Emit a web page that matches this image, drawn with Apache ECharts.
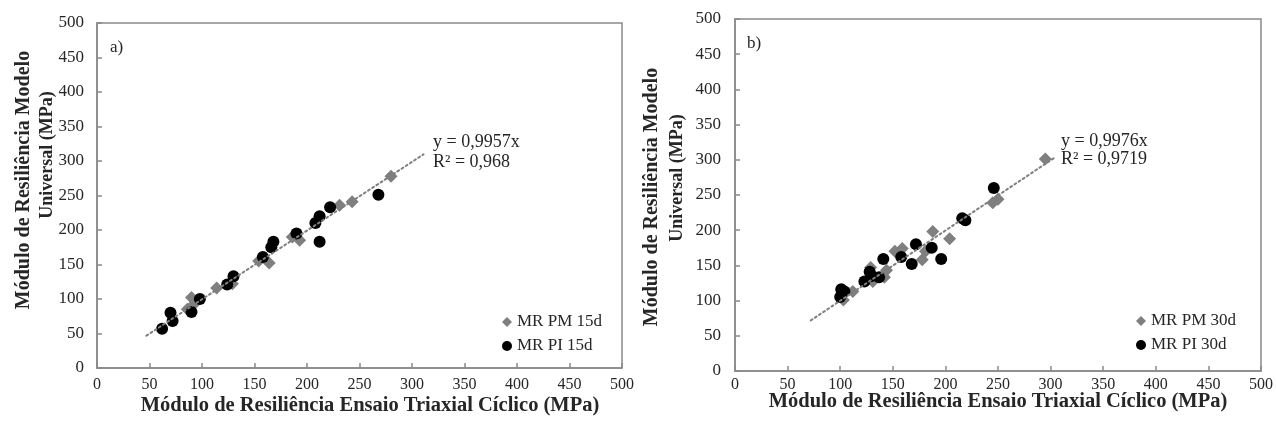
<!DOCTYPE html>
<html><head><meta charset="utf-8">
<script src="https://cdn.jsdelivr.net/npm/echarts@6/dist/echarts.min.js"></script>
<style>html,body{margin:0;padding:0;background:#fff}#c{width:1276px;height:426px}</style>
</head><body><div id="c"></div>
<script>
// ---- data ----
var axisTicks = [0, 50, 100, 150, 200, 250, 300, 350, 400, 450, 500];
var pm15x = [86, 90, 92, 114, 129, 154, 164, 186, 193, 231, 243, 280];
var pm15y = [85, 102, 92, 116, 122, 155, 152, 190, 185, 236, 241, 278];
var pi15x = [62, 70, 72, 90, 98, 124, 130, 158, 166, 168, 190, 208, 212, 212, 222, 268];
var pi15y = [57, 80, 68, 81, 100, 121, 133, 161, 175, 183, 195, 210, 220, 183, 233, 251];
var pm30x = [103, 112, 129, 131, 142, 144, 152, 159, 178, 181, 188, 204, 245, 250, 295];
var pm30y = [101, 113, 147, 127, 133, 143, 170, 174, 158, 170, 198, 188, 239, 244, 301];
var pi30x = [100, 101, 104, 123, 128, 130, 137, 141, 158, 168, 172, 187, 196, 216, 219, 246];
var pi30y = [105, 116, 113, 127, 141, 135, 133, 159, 162, 152, 180, 175, 159, 217, 214, 260];
var slope15 = 0.9957, r2_15 = '0,968', trend15x = [47, 311];
var slope30 = 0.9976, r2_30 = '0,9719', trend30x = [72, 303];
var names = ['MR PM 15d', 'MR PI 15d', 'MR PM 30d', 'MR PI 30d'];
var yTitle1 = 'Módulo de Resiliência Modelo', yTitle2 = 'Universal (MPa)';
var xTitle = 'Módulo de Resiliência Ensaio Triaxial Cíclico (MPa)';

function zip(a, b) { return a.map(function (v, i) { return [v, b[i]]; }); }
function trend(xs, m) { return xs.map(function (x) { return [x, +(m * x).toFixed(2)]; }); }

var FONT = 'Liberation Serif';
var AX = '#898989', TXT = '#262626', GRAY = '#7f7f7f';

function xAx(i, margin) {
  return { type: 'value', gridIndex: i, min: 0, max: 500, interval: 50,
    axisLine: { show: true, lineStyle: { color: AX, width: 1.5 } },
    axisTick: { show: true, inside: true, length: 5, lineStyle: { color: AX, width: 1.5 } },
    splitLine: { show: false },
    axisLabel: { margin: margin, color: TXT, fontFamily: FONT, fontSize: 16,
      formatter: function (v) { return axisTicks.indexOf(v) >= 0 ? String(v) : ''; } } };
}
function yAx(i, margin) {
  return { type: 'value', gridIndex: i, min: 0, max: 500, interval: 50,
    axisLine: { show: true, lineStyle: { color: AX, width: 1.5 } },
    axisTick: { show: true, inside: true, length: 5, lineStyle: { color: AX, width: 1.5 } },
    splitLine: { show: false },
    axisLabel: { margin: margin, color: TXT, fontFamily: FONT, fontSize: 17 } };
}
function sc(name, data, i, symbol, color, size, z) {
  return { type: 'scatter', name: name, xAxisIndex: i, yAxisIndex: i, data: data,
    symbol: symbol, symbolSize: size, z: z, itemStyle: { color: color, opacity: 1 } };
}
function tl(data, i) {
  return { type: 'line', xAxisIndex: i, yAxisIndex: i, data: data, symbol: 'none', z: 5,
    silent: true, lineStyle: { color: GRAY, width: 2, type: [2, 3], cap: 'round' } };
}
function txt(x, y, s, opt) {
  opt = opt || {};
  return { type: 'text', x: x, y: y, rotation: opt.rot || 0, z: 10,
    style: { text: s, fill: TXT, font: (opt.bold ? 'bold ' : '') + (opt.size || 17) + 'px "' + FONT + '"',
      textAlign: opt.align || 'left', textVerticalAlign: 'middle' } };
}
function legend(left, top, a, b) {
  return { left: left, top: top, padding: 0, orient: 'vertical', itemWidth: 10, itemHeight: 10, itemGap: 4,
    textStyle: { fontFamily: FONT, fontSize: 17, color: TXT, lineHeight: 20 },
    data: [{ name: a, icon: 'diamond' }, { name: b, icon: 'circle' }] };
}

var chart = echarts.init(document.getElementById('c'), null, { renderer: 'canvas' });
chart.setOption({
  animation: false,
  grid: [
    { left: 97, top: 23, width: 525, height: 345, show: true, borderColor: AX, borderWidth: 1.5, backgroundColor: '#fff' },
    { left: 735, top: 19, width: 527, height: 352, show: true, borderColor: AX, borderWidth: 1.5, backgroundColor: '#fff' }
  ],
  xAxis: [xAx(0, 9), xAx(1, 6)],
  yAxis: [yAx(0, 13), yAx(1, 14)],
  legend: [legend(502, 312, names[0], names[1]), legend(1136, 311, names[2], names[3])],
  series: [
    sc(names[0], zip(pm15x, pm15y), 0, 'diamond', GRAY, 13, 2),
    sc(names[1], zip(pi15x, pi15y), 0, 'circle', '#000', 12, 3),
    tl(trend(trend15x, slope15), 0),
    sc(names[2], zip(pm30x, pm30y), 1, 'diamond', GRAY, 13, 2),
    sc(names[3], zip(pi30x, pi30y), 1, 'circle', '#000', 12, 3),
    tl(trend(trend30x, slope30), 1)
  ],
  graphic: [
    txt(110, 48, 'a)'),
    txt(747, 44, 'b)'),
    txt(433, 142, 'y = ' + String(slope15).replace('.', ',') + 'x', { size: 18 }),
    txt(433, 162, 'R² = ' + r2_15, { size: 18 }),
    txt(1061, 141, 'y = ' + String(slope30).replace('.', ',') + 'x', { size: 18 }),
    txt(1061, 159, 'R² = ' + r2_30, { size: 18 }),
    txt(370, 406, xTitle, { bold: true, size: 20.5, align: 'center' }),
    txt(998, 402, xTitle, { bold: true, size: 20.5, align: 'center' }),
    txt(24, 180, yTitle1, { bold: true, size: 20, align: 'center', rot: Math.PI / 2 }),
    txt(47, 155, yTitle2, { bold: true, size: 18, align: 'center', rot: Math.PI / 2 }),
    txt(652, 197, yTitle1, { bold: true, size: 20, align: 'center', rot: Math.PI / 2 }),
    txt(677, 178, yTitle2, { bold: true, size: 18, align: 'center', rot: Math.PI / 2 })
  ]
});
</script></body></html>
